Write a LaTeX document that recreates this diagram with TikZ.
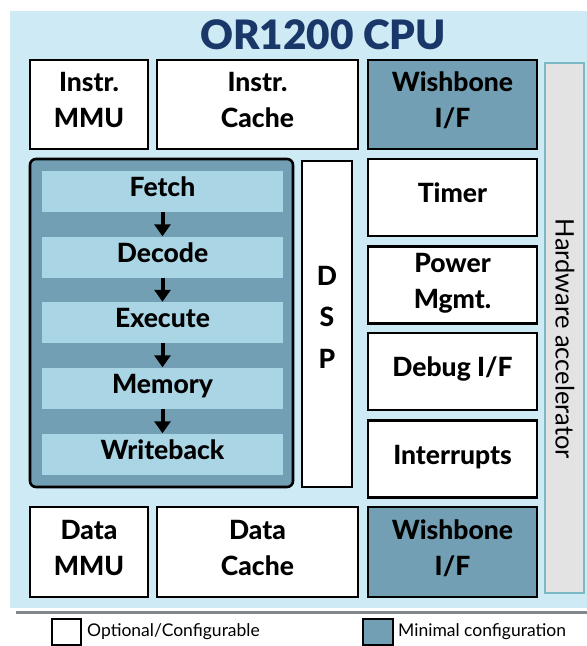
\documentclass[tikz,border=0pt]{standalone}
\usepackage{fontspec}
\setmainfont{Lato}
\newfontfamily\latoblack{Lato Black}
\newfontfamily\latoheavy{Lato Heavy}
\usetikzlibrary{arrows.meta}
\definecolor{bgblue}{RGB}{206,234,245}
\definecolor{steel}{RGB}{114,159,180}
\definecolor{stagecol}{RGB}{170,213,228}
\definecolor{navy}{RGB}{26,55,105}
\definecolor{hwgray}{RGB}{227,227,227}
\definecolor{hwedge}{RGB}{125,185,196}
\definecolor{shadowcol}{RGB}{128,136,140}
\begin{document}
\begin{tikzpicture}[x=1pt,y=-1pt,
  box/.style={draw=black, line width=2.6pt, align=center, inner sep=0pt, text depth=9pt,
    font=\fontsize{26.5}{36}\selectfont\latoheavy},
  opt/.style={box, fill=white},
  mini/.style={box, fill=steel},
  stagebox/.style={fill=stagecol, minimum width=241pt, minimum height=41pt, text depth=9pt,
    inner sep=0pt, font=\fontsize{26.5}{28}\selectfont\latoheavy},
  flow/.style={-{Triangle[width=16pt,length=12pt]}, line width=4pt},
  legtext/.style={anchor=west, inner sep=0pt, font=\fontsize{17.5}{20}\selectfont},
  legbox/.style={draw=black, line width=2pt, minimum width=29pt, minimum height=26pt, inner sep=0pt}]
\useasboundingbox (0,0) rectangle (587,646);
% background
\fill[bgblue] (10,11) rectangle (587,608);
\draw[shadowcol, line width=3pt] (16,612.5) -- (587,612.5);
% title
\node[text=navy, font=\fontsize{40.5}{42}\selectfont\latoblack] (title) at (323,35) {OR1200 CPU};
% top row
\node[opt, minimum width=118pt, minimum height=89pt] (immu) at (89,104.5) {Instr.\\MMU};
\node[opt, minimum width=201pt, minimum height=89pt] (icache) at (257.5,104.5) {Instr.\\Cache};
\node[mini, minimum width=169pt, minimum height=89pt] (iwb) at (452.5,104.5) {Wishbone\\I/F};
% hardware accelerator
\node[draw=hwedge, line width=1.2pt, fill=hwgray, minimum width=39pt, minimum height=530pt,
  inner sep=0pt] (hw) at (564.5,328) {};
\node[rotate=-90, inner sep=0pt, font=\fontsize{25.5}{28}\selectfont] (hwlabel) at (565,339) {Hardware accelerator};
% pipeline
\node[draw=black, line width=2.6pt, fill=steel, rounded corners=6pt, minimum width=263pt,
  minimum height=328pt, inner sep=0pt] (pipe) at (161.5,323) {};
\node[stagebox] (fetch) at (162.5,191.5) {Fetch};
\node[stagebox] (decode) at (162.5,257) {Decode};
\node[stagebox] (execute) at (162.5,322.5) {Execute};
\node[stagebox] (memory) at (162.5,388) {Memory};
\node[stagebox] (writeback) at (162.5,454) {Writeback};
\draw[flow] (fetch) -- (decode);
\draw[flow] (decode) -- (execute);
\draw[flow] (execute) -- (memory);
\draw[flow] (memory) -- (writeback);
% DSP
\node[opt, minimum width=50pt, minimum height=326pt, text depth=14pt,
  font=\fontsize{26.5}{41.5}\selectfont\latoheavy] (dsp) at (327,324) {D\\S\\P};
% right column
\node[opt, minimum width=169pt, minimum height=77pt] (timer) at (452.5,197.5) {Timer};
\node[opt, minimum width=169pt, minimum height=77pt] (power) at (452.5,285) {Power\\Mgmt.};
\node[opt, minimum width=169pt, minimum height=77pt] (debug) at (452.5,371.5) {Debug I/F};
\node[opt, minimum width=169pt, minimum height=77pt] (irq) at (452.5,459) {Interrupts};
% bottom row
\node[opt, minimum width=118pt, minimum height=90pt] (dmmu) at (89,552) {Data\\MMU};
\node[opt, minimum width=201pt, minimum height=90pt] (dcache) at (257.5,552) {Data\\Cache};
\node[mini, minimum width=169pt, minimum height=90pt] (dwb) at (452.5,552) {Wishbone\\I/F};
% legend
\node[legbox, fill=white] (legopt) at (66.5,632) {};
\node[legtext] (legopttext) at (87,632) {Optional/Configurable};
\node[legbox, fill=steel, minimum width=30pt] (legmin) at (378,632) {};
\node[legtext] (legmintext) at (398,632) {Minimal configuration};
\end{tikzpicture}
\end{document}
